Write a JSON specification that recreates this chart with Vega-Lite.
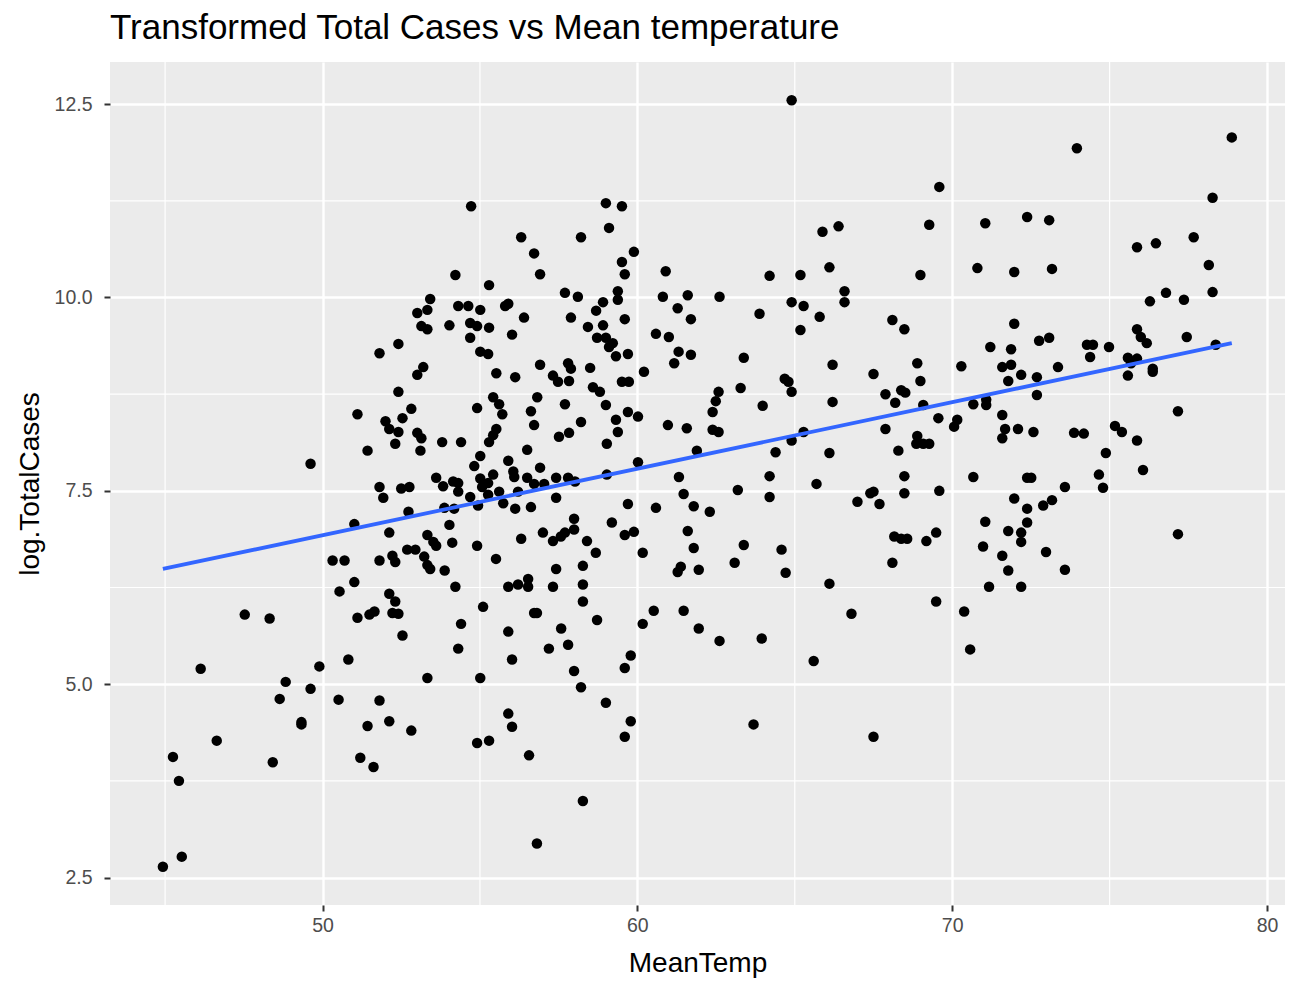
{
  "$schema": "https://vega.github.io/schema/vega-lite/v6.json",
  "width": 1175,
  "height": 843,
  "autosize": {"type": "none"},
  "padding": {"left": 110, "top": 62, "right": 15, "bottom": 85},
  "background": "white",
  "title": {
    "text": "Transformed Total Cases vs Mean temperature",
    "anchor": "start",
    "frame": "group",
    "fontSize": 35,
    "fontWeight": "normal",
    "font": "Liberation Sans",
    "color": "black",
    "offset": 15
  },
  "datasets": {
    "cases": [
      {"MeanTemp": 44.93, "logTotalCases": 2.64}, {"MeanTemp": 45.53, "logTotalCases": 2.77}, {"MeanTemp": 45.25, "logTotalCases": 4.06}, {"MeanTemp": 45.44, "logTotalCases": 3.75},
      {"MeanTemp": 46.13, "logTotalCases": 5.20}, {"MeanTemp": 46.64, "logTotalCases": 4.27}, {"MeanTemp": 47.53, "logTotalCases": 5.90}, {"MeanTemp": 48.32, "logTotalCases": 5.85},
      {"MeanTemp": 48.42, "logTotalCases": 3.99}, {"MeanTemp": 48.64, "logTotalCases": 4.81}, {"MeanTemp": 48.83, "logTotalCases": 5.03}, {"MeanTemp": 49.33, "logTotalCases": 4.51},
      {"MeanTemp": 49.33, "logTotalCases": 4.48}, {"MeanTemp": 49.62, "logTotalCases": 4.94}, {"MeanTemp": 49.62, "logTotalCases": 7.85}, {"MeanTemp": 49.90, "logTotalCases": 5.23},
      {"MeanTemp": 50.32, "logTotalCases": 6.60}, {"MeanTemp": 50.70, "logTotalCases": 6.60}, {"MeanTemp": 50.82, "logTotalCases": 5.32}, {"MeanTemp": 50.51, "logTotalCases": 4.80},
      {"MeanTemp": 50.54, "logTotalCases": 6.20}, {"MeanTemp": 51.01, "logTotalCases": 7.07}, {"MeanTemp": 51.01, "logTotalCases": 6.32}, {"MeanTemp": 51.11, "logTotalCases": 8.49},
      {"MeanTemp": 51.11, "logTotalCases": 5.86}, {"MeanTemp": 51.20, "logTotalCases": 4.05}, {"MeanTemp": 51.43, "logTotalCases": 8.02}, {"MeanTemp": 51.43, "logTotalCases": 4.46},
      {"MeanTemp": 51.49, "logTotalCases": 5.90}, {"MeanTemp": 51.65, "logTotalCases": 5.94}, {"MeanTemp": 51.62, "logTotalCases": 3.93}, {"MeanTemp": 51.81, "logTotalCases": 9.28},
      {"MeanTemp": 51.81, "logTotalCases": 7.55}, {"MeanTemp": 51.93, "logTotalCases": 7.41}, {"MeanTemp": 51.81, "logTotalCases": 6.60}, {"MeanTemp": 51.81, "logTotalCases": 4.79},
      {"MeanTemp": 52.00, "logTotalCases": 8.40}, {"MeanTemp": 52.12, "logTotalCases": 8.30}, {"MeanTemp": 52.12, "logTotalCases": 6.96}, {"MeanTemp": 52.12, "logTotalCases": 6.17},
      {"MeanTemp": 52.12, "logTotalCases": 4.52}, {"MeanTemp": 52.22, "logTotalCases": 6.66}, {"MeanTemp": 52.22, "logTotalCases": 5.92}, {"MeanTemp": 52.31, "logTotalCases": 8.11},
      {"MeanTemp": 52.31, "logTotalCases": 6.58}, {"MeanTemp": 52.31, "logTotalCases": 6.07}, {"MeanTemp": 52.41, "logTotalCases": 9.40}, {"MeanTemp": 52.41, "logTotalCases": 8.78},
      {"MeanTemp": 52.41, "logTotalCases": 8.26}, {"MeanTemp": 52.41, "logTotalCases": 5.91}, {"MeanTemp": 52.50, "logTotalCases": 7.53}, {"MeanTemp": 52.54, "logTotalCases": 8.44},
      {"MeanTemp": 52.54, "logTotalCases": 5.63}, {"MeanTemp": 52.73, "logTotalCases": 7.23}, {"MeanTemp": 52.69, "logTotalCases": 6.74}, {"MeanTemp": 52.76, "logTotalCases": 7.55},
      {"MeanTemp": 52.82, "logTotalCases": 8.56}, {"MeanTemp": 52.82, "logTotalCases": 4.40}, {"MeanTemp": 54.72, "logTotalCases": 11.18}, {"MeanTemp": 59.00, "logTotalCases": 11.22},
      {"MeanTemp": 59.51, "logTotalCases": 11.18}, {"MeanTemp": 59.10, "logTotalCases": 10.90}, {"MeanTemp": 56.31, "logTotalCases": 10.78}, {"MeanTemp": 58.21, "logTotalCases": 10.78},
      {"MeanTemp": 56.72, "logTotalCases": 10.57}, {"MeanTemp": 59.89, "logTotalCases": 10.59}, {"MeanTemp": 59.51, "logTotalCases": 10.46}, {"MeanTemp": 59.60, "logTotalCases": 10.30},
      {"MeanTemp": 56.91, "logTotalCases": 10.30}, {"MeanTemp": 54.22, "logTotalCases": 10.29}, {"MeanTemp": 60.90, "logTotalCases": 10.34}, {"MeanTemp": 55.29, "logTotalCases": 10.16},
      {"MeanTemp": 57.70, "logTotalCases": 10.06}, {"MeanTemp": 58.11, "logTotalCases": 10.01}, {"MeanTemp": 59.38, "logTotalCases": 10.08}, {"MeanTemp": 59.38, "logTotalCases": 9.97},
      {"MeanTemp": 58.91, "logTotalCases": 9.94}, {"MeanTemp": 58.69, "logTotalCases": 9.83}, {"MeanTemp": 53.42, "logTotalCases": 9.98}, {"MeanTemp": 53.33, "logTotalCases": 9.84},
      {"MeanTemp": 53.01, "logTotalCases": 9.80}, {"MeanTemp": 54.31, "logTotalCases": 9.89}, {"MeanTemp": 54.63, "logTotalCases": 9.89}, {"MeanTemp": 55.01, "logTotalCases": 9.84},
      {"MeanTemp": 55.90, "logTotalCases": 9.92}, {"MeanTemp": 55.80, "logTotalCases": 9.89}, {"MeanTemp": 56.40, "logTotalCases": 9.74}, {"MeanTemp": 53.14, "logTotalCases": 9.63},
      {"MeanTemp": 53.33, "logTotalCases": 9.59}, {"MeanTemp": 54.03, "logTotalCases": 9.64}, {"MeanTemp": 54.69, "logTotalCases": 9.67}, {"MeanTemp": 54.91, "logTotalCases": 9.63},
      {"MeanTemp": 55.29, "logTotalCases": 9.61}, {"MeanTemp": 56.02, "logTotalCases": 9.52}, {"MeanTemp": 54.69, "logTotalCases": 9.48}, {"MeanTemp": 57.89, "logTotalCases": 9.74},
      {"MeanTemp": 58.43, "logTotalCases": 9.62}, {"MeanTemp": 58.91, "logTotalCases": 9.64}, {"MeanTemp": 59.60, "logTotalCases": 9.72}, {"MeanTemp": 60.81, "logTotalCases": 10.01},
      {"MeanTemp": 61.28, "logTotalCases": 9.86}, {"MeanTemp": 61.60, "logTotalCases": 10.03}, {"MeanTemp": 61.70, "logTotalCases": 9.72}, {"MeanTemp": 60.59, "logTotalCases": 9.53},
      {"MeanTemp": 61.00, "logTotalCases": 9.49}, {"MeanTemp": 58.72, "logTotalCases": 9.48}, {"MeanTemp": 59.00, "logTotalCases": 9.48}, {"MeanTemp": 59.22, "logTotalCases": 9.41},
      {"MeanTemp": 59.10, "logTotalCases": 9.36}, {"MeanTemp": 55.01, "logTotalCases": 9.30}, {"MeanTemp": 55.26, "logTotalCases": 9.27}, {"MeanTemp": 59.32, "logTotalCases": 9.24},
      {"MeanTemp": 59.70, "logTotalCases": 9.27}, {"MeanTemp": 60.21, "logTotalCases": 9.04}, {"MeanTemp": 61.31, "logTotalCases": 9.30}, {"MeanTemp": 61.70, "logTotalCases": 9.26},
      {"MeanTemp": 61.17, "logTotalCases": 9.15}, {"MeanTemp": 53.20, "logTotalCases": 9.10}, {"MeanTemp": 53.01, "logTotalCases": 9.00}, {"MeanTemp": 55.52, "logTotalCases": 9.02},
      {"MeanTemp": 56.12, "logTotalCases": 8.97}, {"MeanTemp": 56.91, "logTotalCases": 9.13}, {"MeanTemp": 57.80, "logTotalCases": 9.15}, {"MeanTemp": 57.89, "logTotalCases": 9.08},
      {"MeanTemp": 57.32, "logTotalCases": 8.99}, {"MeanTemp": 57.48, "logTotalCases": 8.91}, {"MeanTemp": 57.83, "logTotalCases": 8.92}, {"MeanTemp": 58.50, "logTotalCases": 9.09},
      {"MeanTemp": 58.59, "logTotalCases": 8.84}, {"MeanTemp": 58.81, "logTotalCases": 8.78}, {"MeanTemp": 59.51, "logTotalCases": 8.91}, {"MeanTemp": 59.73, "logTotalCases": 8.91},
      {"MeanTemp": 55.42, "logTotalCases": 8.71}, {"MeanTemp": 55.61, "logTotalCases": 8.62}, {"MeanTemp": 55.71, "logTotalCases": 8.49}, {"MeanTemp": 56.82, "logTotalCases": 8.71},
      {"MeanTemp": 56.62, "logTotalCases": 8.53}, {"MeanTemp": 57.70, "logTotalCases": 8.62}, {"MeanTemp": 54.91, "logTotalCases": 8.57}, {"MeanTemp": 59.00, "logTotalCases": 8.61},
      {"MeanTemp": 59.70, "logTotalCases": 8.52}, {"MeanTemp": 60.02, "logTotalCases": 8.46}, {"MeanTemp": 56.72, "logTotalCases": 8.35}, {"MeanTemp": 58.21, "logTotalCases": 8.39},
      {"MeanTemp": 59.32, "logTotalCases": 8.42}, {"MeanTemp": 59.38, "logTotalCases": 8.26}, {"MeanTemp": 60.97, "logTotalCases": 8.35}, {"MeanTemp": 61.57, "logTotalCases": 8.31},
      {"MeanTemp": 53.01, "logTotalCases": 8.25}, {"MeanTemp": 53.14, "logTotalCases": 8.18}, {"MeanTemp": 53.11, "logTotalCases": 8.02}, {"MeanTemp": 53.80, "logTotalCases": 8.13},
      {"MeanTemp": 54.40, "logTotalCases": 8.13}, {"MeanTemp": 55.52, "logTotalCases": 8.30}, {"MeanTemp": 55.42, "logTotalCases": 8.22}, {"MeanTemp": 55.29, "logTotalCases": 8.13},
      {"MeanTemp": 57.51, "logTotalCases": 8.20}, {"MeanTemp": 57.83, "logTotalCases": 8.25}, {"MeanTemp": 59.03, "logTotalCases": 8.11}, {"MeanTemp": 56.50, "logTotalCases": 8.03},
      {"MeanTemp": 61.89, "logTotalCases": 8.02}, {"MeanTemp": 55.01, "logTotalCases": 7.95}, {"MeanTemp": 54.82, "logTotalCases": 7.82}, {"MeanTemp": 55.90, "logTotalCases": 7.89},
      {"MeanTemp": 56.91, "logTotalCases": 7.80}, {"MeanTemp": 60.02, "logTotalCases": 7.87}, {"MeanTemp": 53.61, "logTotalCases": 7.67}, {"MeanTemp": 53.83, "logTotalCases": 7.56},
      {"MeanTemp": 54.15, "logTotalCases": 7.62}, {"MeanTemp": 54.31, "logTotalCases": 7.60}, {"MeanTemp": 54.31, "logTotalCases": 7.49}, {"MeanTemp": 55.01, "logTotalCases": 7.66},
      {"MeanTemp": 55.07, "logTotalCases": 7.55}, {"MeanTemp": 55.26, "logTotalCases": 7.60}, {"MeanTemp": 55.42, "logTotalCases": 7.71}, {"MeanTemp": 56.06, "logTotalCases": 7.75},
      {"MeanTemp": 56.09, "logTotalCases": 7.68}, {"MeanTemp": 56.50, "logTotalCases": 7.67}, {"MeanTemp": 56.72, "logTotalCases": 7.59}, {"MeanTemp": 57.04, "logTotalCases": 7.59},
      {"MeanTemp": 57.42, "logTotalCases": 7.67}, {"MeanTemp": 57.80, "logTotalCases": 7.67}, {"MeanTemp": 58.02, "logTotalCases": 7.62}, {"MeanTemp": 59.03, "logTotalCases": 7.71},
      {"MeanTemp": 61.32, "logTotalCases": 7.68}, {"MeanTemp": 56.21, "logTotalCases": 7.49}, {"MeanTemp": 55.61, "logTotalCases": 7.49}, {"MeanTemp": 55.26, "logTotalCases": 7.45},
      {"MeanTemp": 54.69, "logTotalCases": 7.42}, {"MeanTemp": 54.94, "logTotalCases": 7.31}, {"MeanTemp": 55.74, "logTotalCases": 7.34}, {"MeanTemp": 56.12, "logTotalCases": 7.27},
      {"MeanTemp": 56.62, "logTotalCases": 7.29}, {"MeanTemp": 57.42, "logTotalCases": 7.41}, {"MeanTemp": 61.47, "logTotalCases": 7.46}, {"MeanTemp": 59.70, "logTotalCases": 7.33},
      {"MeanTemp": 60.59, "logTotalCases": 7.28}, {"MeanTemp": 61.79, "logTotalCases": 7.30}, {"MeanTemp": 53.87, "logTotalCases": 7.28}, {"MeanTemp": 54.18, "logTotalCases": 7.27},
      {"MeanTemp": 54.03, "logTotalCases": 7.06}, {"MeanTemp": 57.99, "logTotalCases": 7.14}, {"MeanTemp": 59.19, "logTotalCases": 7.09}, {"MeanTemp": 53.33, "logTotalCases": 6.93},
      {"MeanTemp": 53.52, "logTotalCases": 6.84}, {"MeanTemp": 53.61, "logTotalCases": 6.79}, {"MeanTemp": 54.12, "logTotalCases": 6.83}, {"MeanTemp": 54.91, "logTotalCases": 6.79},
      {"MeanTemp": 56.31, "logTotalCases": 6.88}, {"MeanTemp": 57.00, "logTotalCases": 6.96}, {"MeanTemp": 57.32, "logTotalCases": 6.85}, {"MeanTemp": 57.57, "logTotalCases": 6.91},
      {"MeanTemp": 57.70, "logTotalCases": 6.96}, {"MeanTemp": 57.99, "logTotalCases": 7.00}, {"MeanTemp": 58.40, "logTotalCases": 6.85}, {"MeanTemp": 59.60, "logTotalCases": 6.93},
      {"MeanTemp": 59.89, "logTotalCases": 6.97}, {"MeanTemp": 61.60, "logTotalCases": 6.98}, {"MeanTemp": 61.79, "logTotalCases": 6.76}, {"MeanTemp": 52.95, "logTotalCases": 6.74},
      {"MeanTemp": 53.23, "logTotalCases": 6.65}, {"MeanTemp": 53.33, "logTotalCases": 6.54}, {"MeanTemp": 53.42, "logTotalCases": 6.49}, {"MeanTemp": 53.88, "logTotalCases": 6.47},
      {"MeanTemp": 55.51, "logTotalCases": 6.62}, {"MeanTemp": 58.68, "logTotalCases": 6.70}, {"MeanTemp": 60.17, "logTotalCases": 6.70}, {"MeanTemp": 58.27, "logTotalCases": 6.53},
      {"MeanTemp": 57.42, "logTotalCases": 6.49}, {"MeanTemp": 61.38, "logTotalCases": 6.52}, {"MeanTemp": 61.28, "logTotalCases": 6.45}, {"MeanTemp": 61.95, "logTotalCases": 6.48},
      {"MeanTemp": 54.22, "logTotalCases": 6.26}, {"MeanTemp": 55.90, "logTotalCases": 6.26}, {"MeanTemp": 56.21, "logTotalCases": 6.29}, {"MeanTemp": 56.53, "logTotalCases": 6.36},
      {"MeanTemp": 56.53, "logTotalCases": 6.26}, {"MeanTemp": 57.32, "logTotalCases": 6.26}, {"MeanTemp": 58.27, "logTotalCases": 6.29}, {"MeanTemp": 58.27, "logTotalCases": 6.07},
      {"MeanTemp": 55.10, "logTotalCases": 6.00}, {"MeanTemp": 56.72, "logTotalCases": 5.92}, {"MeanTemp": 56.81, "logTotalCases": 5.92}, {"MeanTemp": 58.72, "logTotalCases": 5.83},
      {"MeanTemp": 60.52, "logTotalCases": 5.95}, {"MeanTemp": 61.47, "logTotalCases": 5.95}, {"MeanTemp": 60.17, "logTotalCases": 5.78}, {"MeanTemp": 54.40, "logTotalCases": 5.78},
      {"MeanTemp": 57.58, "logTotalCases": 5.72}, {"MeanTemp": 55.90, "logTotalCases": 5.68}, {"MeanTemp": 61.95, "logTotalCases": 5.72}, {"MeanTemp": 54.31, "logTotalCases": 5.46},
      {"MeanTemp": 56.02, "logTotalCases": 5.32}, {"MeanTemp": 57.19, "logTotalCases": 5.46}, {"MeanTemp": 57.80, "logTotalCases": 5.51}, {"MeanTemp": 59.79, "logTotalCases": 5.37},
      {"MeanTemp": 59.60, "logTotalCases": 5.21}, {"MeanTemp": 57.99, "logTotalCases": 5.17}, {"MeanTemp": 53.33, "logTotalCases": 5.08}, {"MeanTemp": 55.01, "logTotalCases": 5.08},
      {"MeanTemp": 58.21, "logTotalCases": 4.96}, {"MeanTemp": 59.00, "logTotalCases": 4.76}, {"MeanTemp": 55.90, "logTotalCases": 4.62}, {"MeanTemp": 56.02, "logTotalCases": 4.45},
      {"MeanTemp": 59.79, "logTotalCases": 4.52}, {"MeanTemp": 59.60, "logTotalCases": 4.32}, {"MeanTemp": 54.91, "logTotalCases": 4.24}, {"MeanTemp": 55.29, "logTotalCases": 4.27},
      {"MeanTemp": 56.56, "logTotalCases": 4.08}, {"MeanTemp": 58.27, "logTotalCases": 3.49}, {"MeanTemp": 56.81, "logTotalCases": 2.94}, {"MeanTemp": 64.90, "logTotalCases": 12.55},
      {"MeanTemp": 69.59, "logTotalCases": 11.43}, {"MeanTemp": 65.88, "logTotalCases": 10.85}, {"MeanTemp": 66.39, "logTotalCases": 10.92}, {"MeanTemp": 69.27, "logTotalCases": 10.94},
      {"MeanTemp": 71.05, "logTotalCases": 10.96}, {"MeanTemp": 64.20, "logTotalCases": 10.28}, {"MeanTemp": 65.18, "logTotalCases": 10.29}, {"MeanTemp": 66.10, "logTotalCases": 10.39},
      {"MeanTemp": 68.99, "logTotalCases": 10.29}, {"MeanTemp": 70.80, "logTotalCases": 10.38}, {"MeanTemp": 62.61, "logTotalCases": 10.01}, {"MeanTemp": 64.90, "logTotalCases": 9.94},
      {"MeanTemp": 65.28, "logTotalCases": 9.89}, {"MeanTemp": 66.58, "logTotalCases": 10.08}, {"MeanTemp": 66.58, "logTotalCases": 9.94}, {"MeanTemp": 63.88, "logTotalCases": 9.79},
      {"MeanTemp": 65.79, "logTotalCases": 9.75}, {"MeanTemp": 68.10, "logTotalCases": 9.71}, {"MeanTemp": 68.48, "logTotalCases": 9.59}, {"MeanTemp": 65.18, "logTotalCases": 9.58},
      {"MeanTemp": 71.21, "logTotalCases": 9.36}, {"MeanTemp": 63.38, "logTotalCases": 9.22}, {"MeanTemp": 63.28, "logTotalCases": 8.83}, {"MeanTemp": 62.58, "logTotalCases": 8.78},
      {"MeanTemp": 62.49, "logTotalCases": 8.66}, {"MeanTemp": 62.39, "logTotalCases": 8.52}, {"MeanTemp": 62.39, "logTotalCases": 8.29}, {"MeanTemp": 62.58, "logTotalCases": 8.26},
      {"MeanTemp": 63.98, "logTotalCases": 8.60}, {"MeanTemp": 64.68, "logTotalCases": 8.95}, {"MeanTemp": 64.80, "logTotalCases": 8.91}, {"MeanTemp": 64.90, "logTotalCases": 8.78},
      {"MeanTemp": 66.20, "logTotalCases": 9.13}, {"MeanTemp": 66.20, "logTotalCases": 8.65}, {"MeanTemp": 67.50, "logTotalCases": 9.01}, {"MeanTemp": 68.89, "logTotalCases": 9.15},
      {"MeanTemp": 68.99, "logTotalCases": 8.92}, {"MeanTemp": 70.29, "logTotalCases": 9.11}, {"MeanTemp": 67.88, "logTotalCases": 8.75}, {"MeanTemp": 68.38, "logTotalCases": 8.80},
      {"MeanTemp": 68.51, "logTotalCases": 8.77}, {"MeanTemp": 68.19, "logTotalCases": 8.64}, {"MeanTemp": 69.08, "logTotalCases": 8.61}, {"MeanTemp": 69.56, "logTotalCases": 8.44},
      {"MeanTemp": 70.16, "logTotalCases": 8.42}, {"MeanTemp": 70.06, "logTotalCases": 8.33}, {"MeanTemp": 70.67, "logTotalCases": 8.62}, {"MeanTemp": 71.08, "logTotalCases": 8.61},
      {"MeanTemp": 71.08, "logTotalCases": 8.68}, {"MeanTemp": 65.28, "logTotalCases": 8.26}, {"MeanTemp": 64.90, "logTotalCases": 8.15}, {"MeanTemp": 64.39, "logTotalCases": 8.00},
      {"MeanTemp": 66.10, "logTotalCases": 7.99}, {"MeanTemp": 67.88, "logTotalCases": 8.30}, {"MeanTemp": 68.89, "logTotalCases": 8.21}, {"MeanTemp": 68.86, "logTotalCases": 8.11},
      {"MeanTemp": 69.08, "logTotalCases": 8.11}, {"MeanTemp": 69.27, "logTotalCases": 8.11}, {"MeanTemp": 68.29, "logTotalCases": 8.02}, {"MeanTemp": 64.20, "logTotalCases": 7.69},
      {"MeanTemp": 65.69, "logTotalCases": 7.59}, {"MeanTemp": 63.19, "logTotalCases": 7.51}, {"MeanTemp": 64.20, "logTotalCases": 7.42}, {"MeanTemp": 68.48, "logTotalCases": 7.69},
      {"MeanTemp": 68.48, "logTotalCases": 7.47}, {"MeanTemp": 69.59, "logTotalCases": 7.50}, {"MeanTemp": 70.67, "logTotalCases": 7.68}, {"MeanTemp": 67.40, "logTotalCases": 7.47},
      {"MeanTemp": 67.50, "logTotalCases": 7.49}, {"MeanTemp": 66.99, "logTotalCases": 7.36}, {"MeanTemp": 67.69, "logTotalCases": 7.33}, {"MeanTemp": 62.30, "logTotalCases": 7.23},
      {"MeanTemp": 63.38, "logTotalCases": 6.80}, {"MeanTemp": 64.58, "logTotalCases": 6.74}, {"MeanTemp": 63.09, "logTotalCases": 6.57}, {"MeanTemp": 64.71, "logTotalCases": 6.44},
      {"MeanTemp": 68.10, "logTotalCases": 6.57}, {"MeanTemp": 68.16, "logTotalCases": 6.91}, {"MeanTemp": 68.38, "logTotalCases": 6.88}, {"MeanTemp": 68.57, "logTotalCases": 6.88},
      {"MeanTemp": 69.18, "logTotalCases": 6.85}, {"MeanTemp": 69.49, "logTotalCases": 6.96}, {"MeanTemp": 71.05, "logTotalCases": 7.10}, {"MeanTemp": 70.98, "logTotalCases": 6.78},
      {"MeanTemp": 66.10, "logTotalCases": 6.30}, {"MeanTemp": 69.49, "logTotalCases": 6.07}, {"MeanTemp": 66.80, "logTotalCases": 5.91}, {"MeanTemp": 70.38, "logTotalCases": 5.94},
      {"MeanTemp": 71.17, "logTotalCases": 6.26}, {"MeanTemp": 62.61, "logTotalCases": 5.56}, {"MeanTemp": 63.95, "logTotalCases": 5.59}, {"MeanTemp": 65.60, "logTotalCases": 5.30},
      {"MeanTemp": 70.57, "logTotalCases": 5.45}, {"MeanTemp": 63.69, "logTotalCases": 4.48}, {"MeanTemp": 67.50, "logTotalCases": 4.32}, {"MeanTemp": 73.96, "logTotalCases": 11.93},
      {"MeanTemp": 78.88, "logTotalCases": 12.07}, {"MeanTemp": 78.27, "logTotalCases": 11.29}, {"MeanTemp": 72.38, "logTotalCases": 11.04}, {"MeanTemp": 73.08, "logTotalCases": 11.00},
      {"MeanTemp": 75.87, "logTotalCases": 10.65}, {"MeanTemp": 76.47, "logTotalCases": 10.70}, {"MeanTemp": 77.67, "logTotalCases": 10.78}, {"MeanTemp": 78.15, "logTotalCases": 10.42},
      {"MeanTemp": 71.97, "logTotalCases": 10.33}, {"MeanTemp": 73.17, "logTotalCases": 10.37}, {"MeanTemp": 76.28, "logTotalCases": 9.95}, {"MeanTemp": 76.79, "logTotalCases": 10.06},
      {"MeanTemp": 77.36, "logTotalCases": 9.97}, {"MeanTemp": 78.27, "logTotalCases": 10.07}, {"MeanTemp": 71.97, "logTotalCases": 9.66}, {"MeanTemp": 72.76, "logTotalCases": 9.44},
      {"MeanTemp": 73.08, "logTotalCases": 9.48}, {"MeanTemp": 71.87, "logTotalCases": 9.33}, {"MeanTemp": 74.28, "logTotalCases": 9.39}, {"MeanTemp": 74.47, "logTotalCases": 9.39},
      {"MeanTemp": 74.98, "logTotalCases": 9.36}, {"MeanTemp": 75.87, "logTotalCases": 9.59}, {"MeanTemp": 75.99, "logTotalCases": 9.49}, {"MeanTemp": 76.18, "logTotalCases": 9.41},
      {"MeanTemp": 77.45, "logTotalCases": 9.49}, {"MeanTemp": 78.37, "logTotalCases": 9.39}, {"MeanTemp": 74.38, "logTotalCases": 9.23}, {"MeanTemp": 75.58, "logTotalCases": 9.22},
      {"MeanTemp": 75.87, "logTotalCases": 9.21}, {"MeanTemp": 75.68, "logTotalCases": 9.15}, {"MeanTemp": 76.37, "logTotalCases": 9.08}, {"MeanTemp": 76.37, "logTotalCases": 9.04},
      {"MeanTemp": 75.58, "logTotalCases": 8.99}, {"MeanTemp": 71.59, "logTotalCases": 9.10}, {"MeanTemp": 71.87, "logTotalCases": 9.13}, {"MeanTemp": 72.19, "logTotalCases": 9.00},
      {"MeanTemp": 71.78, "logTotalCases": 8.92}, {"MeanTemp": 72.69, "logTotalCases": 8.97}, {"MeanTemp": 73.36, "logTotalCases": 9.10}, {"MeanTemp": 72.69, "logTotalCases": 8.74},
      {"MeanTemp": 71.59, "logTotalCases": 8.48}, {"MeanTemp": 71.68, "logTotalCases": 8.30}, {"MeanTemp": 71.59, "logTotalCases": 8.18}, {"MeanTemp": 72.09, "logTotalCases": 8.30},
      {"MeanTemp": 72.58, "logTotalCases": 8.26}, {"MeanTemp": 73.87, "logTotalCases": 8.25}, {"MeanTemp": 74.18, "logTotalCases": 8.24}, {"MeanTemp": 75.17, "logTotalCases": 8.34},
      {"MeanTemp": 75.39, "logTotalCases": 8.26}, {"MeanTemp": 75.87, "logTotalCases": 8.15}, {"MeanTemp": 74.88, "logTotalCases": 7.99}, {"MeanTemp": 76.06, "logTotalCases": 7.77},
      {"MeanTemp": 77.17, "logTotalCases": 8.53}, {"MeanTemp": 74.66, "logTotalCases": 7.71}, {"MeanTemp": 74.79, "logTotalCases": 7.54}, {"MeanTemp": 72.38, "logTotalCases": 7.67},
      {"MeanTemp": 72.51, "logTotalCases": 7.67}, {"MeanTemp": 73.58, "logTotalCases": 7.55}, {"MeanTemp": 71.97, "logTotalCases": 7.40}, {"MeanTemp": 72.38, "logTotalCases": 7.27},
      {"MeanTemp": 72.89, "logTotalCases": 7.31}, {"MeanTemp": 73.17, "logTotalCases": 7.38}, {"MeanTemp": 72.38, "logTotalCases": 7.09}, {"MeanTemp": 71.78, "logTotalCases": 6.98},
      {"MeanTemp": 72.19, "logTotalCases": 6.96}, {"MeanTemp": 72.19, "logTotalCases": 6.84}, {"MeanTemp": 71.59, "logTotalCases": 6.66}, {"MeanTemp": 72.98, "logTotalCases": 6.71},
      {"MeanTemp": 71.78, "logTotalCases": 6.47}, {"MeanTemp": 73.58, "logTotalCases": 6.48}, {"MeanTemp": 72.19, "logTotalCases": 6.26}, {"MeanTemp": 77.17, "logTotalCases": 6.94}
    ],
    "fit": [
      {"MeanTemp": 44.93, "logTotalCases": 6.49},
      {"MeanTemp": 78.88, "logTotalCases": 9.41}
    ],
    "minorX": [
      {"MeanTemp": 45}, {"MeanTemp": 55}, {"MeanTemp": 65}, {"MeanTemp": 75}
    ],
    "minorY": [
      {"logTotalCases": 3.75}, {"logTotalCases": 6.25}, {"logTotalCases": 8.75}, {"logTotalCases": 11.25}
    ]
  },
  "layer": [
    {
      "data": {"name": "minorX"},
      "mark": {"type": "rule", "color": "white", "strokeWidth": 1.2},
      "encoding": {
        "x": {"field": "MeanTemp", "type": "quantitative", "title": "MeanTemp", "scale": {"domain": [43.25, 80.57], "nice": false, "zero": false}}
      }
    },
    {
      "data": {"name": "minorY"},
      "mark": {"type": "rule", "color": "white", "strokeWidth": 1.2},
      "encoding": {
        "y": {"field": "logTotalCases", "type": "quantitative", "title": "log.TotalCases", "scale": {"domain": [2.145, 13.045], "nice": false, "zero": false}}
      }
    },
    {
      "data": {"name": "cases"},
      "mark": {"type": "point", "filled": true, "color": "black", "opacity": 1, "size": 110, "strokeWidth": 0},
      "encoding": {
        "x": {
          "field": "MeanTemp", "type": "quantitative", "title": "MeanTemp",
          "scale": {"domain": [43.25, 80.57], "nice": false, "zero": false},
          "axis": {"values": [50, 60, 70, 80]}
        },
        "y": {
          "field": "logTotalCases", "type": "quantitative", "title": "log.TotalCases",
          "scale": {"domain": [2.145, 13.045], "nice": false, "zero": false},
          "axis": {"values": [2.5, 5, 7.5, 10, 12.5], "format": ".1f"}
        }
      }
    },
    {
      "data": {"name": "fit"},
      "mark": {"type": "line", "color": "#3366FF", "strokeWidth": 3.8},
      "encoding": {
        "x": {"field": "MeanTemp", "type": "quantitative", "title": "MeanTemp", "scale": {"domain": [43.25, 80.57], "nice": false, "zero": false}},
        "y": {"field": "logTotalCases", "type": "quantitative", "title": "log.TotalCases", "scale": {"domain": [2.145, 13.045], "nice": false, "zero": false}}
      }
    }
  ],
  "config": {
    "font": "Liberation Sans",
    "view": {"fill": "#EBEBEB", "stroke": null},
    "axis": {
      "domain": false,
      "grid": true,
      "gridColor": "white",
      "gridWidth": 2.4,
      "gridOpacity": 1,
      "tickColor": "#333333",
      "tickSize": 6,
      "tickWidth": 2,
      "labelFont": "Liberation Sans",
      "labelFontSize": 19.5,
      "labelColor": "#4D4D4D",
      "titleFont": "Liberation Sans",
      "titleFontSize": 28,
      "titleFontWeight": "normal",
      "titleColor": "black"
    },
    "axisX": {"titlePadding": 15, "labelPadding": 5},
    "axisY": {"titlePadding": 10, "labelPadding": 12}
  }
}
